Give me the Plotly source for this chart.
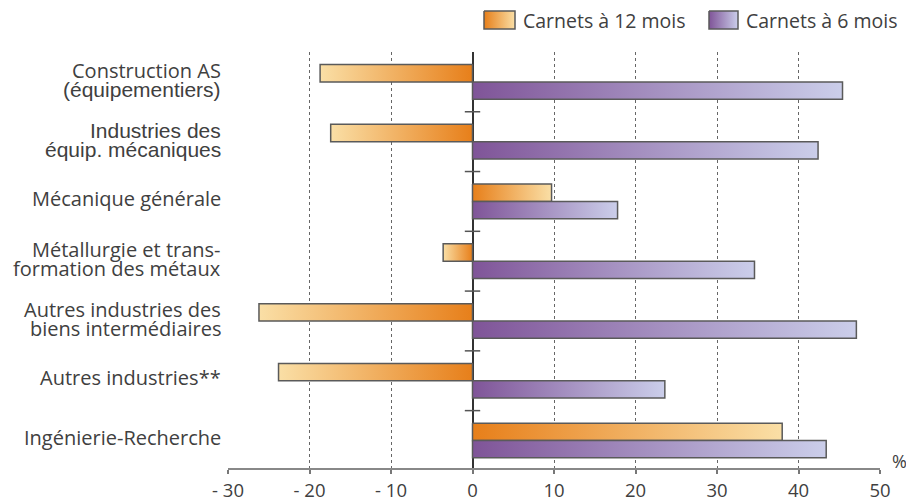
import plotly.graph_objects as go

# ---- data ----
categories = [
    "Construction AS<br>(équipementiers)",
    "Industries des<br>équip. mécaniques",
    "Mécanique générale",
    "Métallurgie et trans-<br>formation des métaux",
    "Autres industries des<br>biens intermédiaires",
    "Autres industries**",
    "Ingénierie-Recherche",
]
carnets_12 = [-18.7, -17.4, 9.7, -3.6, -26.2, -23.8, 38.0]
carnets_6 = [45.4, 42.4, 17.8, 34.6, 47.1, 23.6, 43.4]
series_names = ["Carnets à 12 mois", "Carnets à 6 mois"]
x_tickvals = [-30, -20, -10, 0, 10, 20, 30, 40, 50]
x_ticktext = ["- 30", "- 20", "- 10", "0", "10", "20", "30", "40", "50"]

# ---- style ----
W, H = 914, 499
OFF = 8  # page body margin offset
PL, PR, PT, PB = 228 - OFF, 880 - OFF, 52 - OFF, 468 - OFF  # plot area in figure pixels
ORANGE_DARK, ORANGE_LIGHT = "#E77F1A", "#FADFA6"
PURPLE_DARK, PURPLE_LIGHT = "#7F5498", "#CBCEEA"
OUTLINE = "#5a5a5a"
TEXT = "#404040"
FONT = "Open Sans"
ARIAL = "Liberation Sans"
BAR_H = 0.29
# lines drawn in an Arial-like face in the original
arial_lines = {"(équipementiers)", "Industries des", "équip. mécaniques"}

fig = go.Figure()


def add_bar(i, v, top, dark, light, name):
    y0, y1 = (i - BAR_H, i) if top else (i, i + BAR_H)
    lo, hi = min(0, v), max(0, v)
    cs = [[0, dark], [1, light]] if v >= 0 else [[0, light], [1, dark]]
    fig.add_trace(go.Scatter(
        x=[0, v, v, 0, 0], y=[y0, y0, y1, y1, y0],
        mode="lines", fill="toself",
        fillgradient=dict(type="horizontal", colorscale=cs, start=lo, stop=hi),
        line=dict(color=OUTLINE, width=1.5),
        showlegend=False, hoverinfo="skip", name=name,
    ))


for i, (a, b) in enumerate(zip(carnets_12, carnets_6)):
    add_bar(i, a, True, ORANGE_DARK, ORANGE_LIGHT, series_names[0])
    add_bar(i, b, False, PURPLE_DARK, PURPLE_LIGHT, series_names[1])

# category labels (one annotation per line, tight leading as in the original)
for i, cat in enumerate(categories):
    lines = cat.split("<br>")
    shifts = [3] if len(lines) == 1 else [11.5, -7.5]
    for ln, sh in zip(lines, shifts):
        fam = ARIAL if ln in arial_lines else FONT
        fig.add_annotation(
            x=-30, y=i, xref="x", yref="y", text=ln, showarrow=False,
            xanchor="right", yanchor="middle", xshift=-5, yshift=sh,
            font=dict(family=fam, size=20 if fam == FONT else 21, color=TEXT),
        )

# small tick marks on the zero line between categories
sep = [i + 0.5 for i in range(len(categories) - 1)]
fig.add_trace(go.Scatter(
    x=[0] * len(sep), y=sep, mode="markers",
    marker=dict(symbol="line-ew", size=11, line=dict(color="#555", width=1.5)),
    showlegend=False, hoverinfo="skip",
))

# legend boxes drawn on an overlay pixel axis
legend_boxes = [(484 - OFF, 515 - OFF, ORANGE_DARK, ORANGE_LIGHT),
                (709 - OFF, 738 - OFF, PURPLE_DARK, PURPLE_LIGHT)]
ly0, ly1 = 11 - OFF, 29 - OFF
for (x0, x1, d, l), nm in zip(legend_boxes, series_names):
    fig.add_trace(go.Scatter(
        x=[x0, x1, x1, x0, x0], y=[ly0, ly0, ly1, ly1, ly0], xaxis="x2", yaxis="y2",
        mode="lines", fill="toself",
        fillgradient=dict(type="horizontal", colorscale=[[0, d], [1, l]], start=x0, stop=x1),
        line=dict(color=OUTLINE, width=1.5), showlegend=False, hoverinfo="skip",
    ))
    fig.add_annotation(x=x1 + 6, y=(ly0 + ly1) / 2, xref="x2", yref="y2", text=nm,
                       showarrow=False, xanchor="left", yanchor="middle",
                       font=dict(family=FONT, size=19.5, color=TEXT))

fig.add_annotation(x=890 - OFF, y=461 - OFF, xref="x2", yref="y2", text="%", showarrow=False,
                   xanchor="left", yanchor="middle", font=dict(family=FONT, size=18, color=TEXT))

fig.update_layout(
    width=W, height=H, autosize=False,
    margin=dict(l=0, r=0, t=0, b=0, pad=0, autoexpand=False),
    paper_bgcolor="white", plot_bgcolor="rgba(0,0,0,0)",
    showlegend=False,
    xaxis=dict(
        domain=[PL / W, PR / W], range=[-30, 50], automargin=False,
        tickvals=x_tickvals, ticktext=x_ticktext,
        showgrid=True, gridcolor="#666", griddash="dot", gridwidth=1,
        zeroline=True, zerolinecolor="#333", zerolinewidth=1.5,
        showline=True, linecolor="#888", linewidth=2,
        ticks="outside", ticklen=4, tickcolor="#777", tickwidth=1.5,
        tickfont=dict(family=FONT, size=18.5, color=TEXT),
        ticklabelstandoff=1,
        anchor="y", fixedrange=True,
    ),
    yaxis=dict(
        domain=[1 - PB / H, 1 - PT / H], range=[6.46, -0.5], automargin=False,
        showticklabels=False,
        showgrid=False, zeroline=False, showline=False, ticks="",
        anchor="x", fixedrange=True,
    ),
    xaxis2=dict(domain=[0, 1], range=[0, W], visible=False, anchor="y2",
                fixedrange=True, automargin=False),
    yaxis2=dict(domain=[0, 1], range=[H, 0], visible=False, anchor="x2",
                fixedrange=True, automargin=False),
)

fig.write_html("out.html")
